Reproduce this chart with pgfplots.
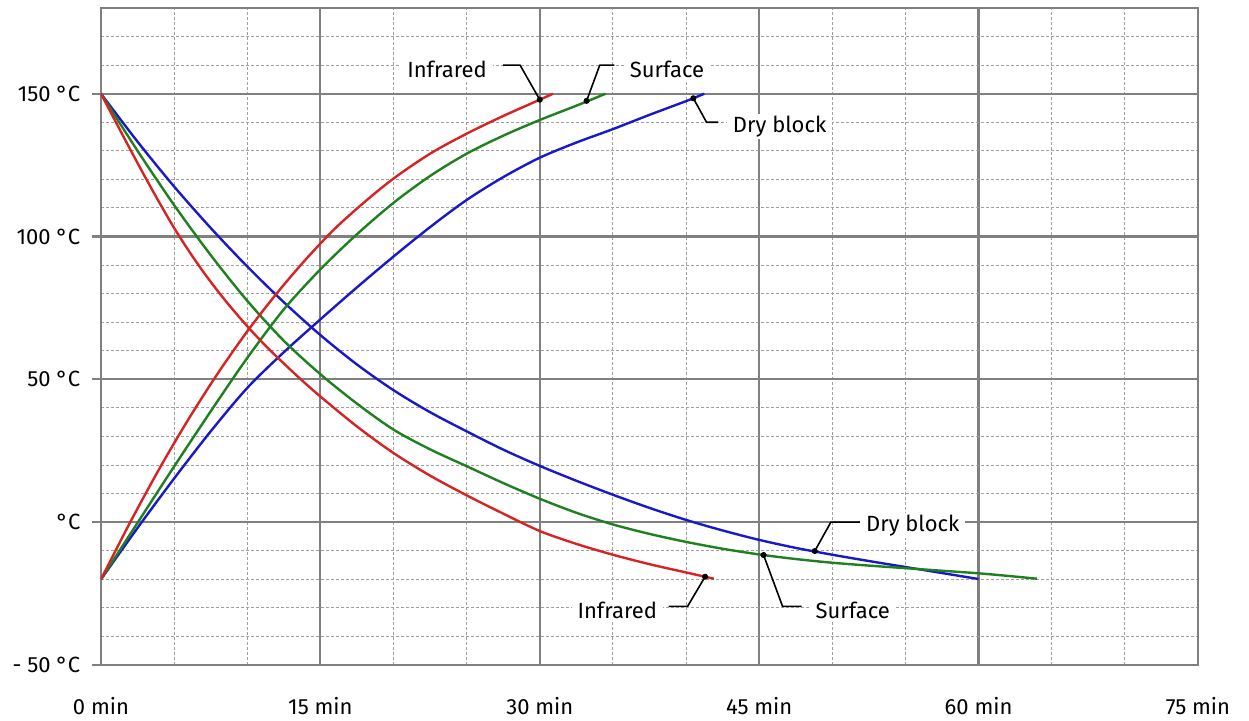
\documentclass[border=0pt]{standalone}
\usepackage{fontspec}
\setmainfont{Fira Sans}
\usepackage{pgfplots}
\pgfplotsset{compat=1.18}
\definecolor{gridgray}{RGB}{128,128,128}
\definecolor{mingray}{RGB}{160,160,160}
\definecolor{cred}{RGB}{214,35,35}
\definecolor{cgreen}{RGB}{30,128,30}
\definecolor{cblue}{RGB}{25,25,200}
\begin{document}
\begin{tikzpicture}[font=\fontsize{11pt}{13pt}\selectfont]
\begin{axis}[
  scale only axis, width=548.5pt, height=328.5pt,
  xmin=0, xmax=75, ymin=-50, ymax=180,
  xtick={0,15,30,45,60,75},
  xticklabels={0 min,15 min,30 min,45 min,60 min,75 min},
  ytick={-50,0,50,100,150},
  yticklabels={- 50 °C,°C,50 °C,100 °C,150 °C},
  minor xtick={5,10,20,25,35,40,50,55,65,70},
  minor ytick={-40,-30,-20,-10,10,20,30,40,60,70,80,90,110,120,130,140,160,170},
  grid=both,
  major grid style={gridgray, line width=1.1pt},
  minor grid style={mingray, line width=0.5pt, dash pattern=on 1.5pt off 1pt},
  axis line style={gridgray, line width=1.3pt},
  tick align=outside, major tick length=4.5pt, minor tick length=0pt,
  xtick pos=bottom, ytick pos=left,
  xtick style={draw=none},
  ytick style={gridgray, line width=1.1pt},
  xticklabel style={yshift=-8pt},
  yticklabel style={xshift=-2.3pt},
  every axis plot/.append style={line join=round},
]
% Dry block (blue)
\addplot[cblue, line width=1.2pt, smooth] coordinates {
(0,-20)(2.5,-2)(5,15.3)(7.5,31.8)(10,47)(12.5,59.5)(15,71)(17.5,82.2)(20,93)(22.5,103.3)(25,112.8)(27.5,120.8)(30,127.6)(32.5,132.9)(35,137.6)(37.5,142.6)(40,147.4)(41.25,150)};
\addplot[cblue, line width=1.2pt, smooth] coordinates {
(0,150)(2.5,133.2)(5,117.5)(7.5,103)(10,89.5)(12.5,77)(15,65.5)(17.5,55.2)(20,46.2)(22.5,38.5)(25,31.8)(27.5,25.4)(30,19.7)(32.5,14.5)(35,9.6)(37.5,5)(40,0.8)(42.5,-2.9)(45,-6.2)(47.5,-9)(50,-11.4)(52.5,-13.6)(55,-15.7)(57.5,-17.8)(60,-19.9)};
% Surface (green)
\addplot[cgreen, line width=1.2pt, smooth] coordinates {
(0,-20)(2.5,-0.2)(5,19.5)(7.5,38.8)(10,57.5)(12.5,74.5)(15,88.5)(17.5,100.8)(20,111.8)(22.5,121.2)(25,129)(27.5,135.3)(30,140.8)(32.5,145.8)(34.5,150)};
\addplot[cgreen, line width=1.2pt, smooth] coordinates {
(0,150)(2.5,130)(5,111)(7.5,93.5)(10,77.5)(12.5,63.5)(15,51.8)(17.5,41.5)(20,32.4)(22.5,25.5)(25,19.6)(27.5,13.7)(30,8.2)(32.5,3.3)(35,-0.8)(37.5,-4.1)(40,-6.9)(42.5,-9.3)(45,-11.3)(47.5,-12.9)(50,-14.2)(52.5,-15.2)(55,-16.1)(57.5,-17)(60,-17.9)(62,-18.8)(64,-19.8)};
% Infrared (red)
\addplot[cred, line width=1.2pt, smooth] coordinates {
(0,-20)(2,0)(4,18.8)(6,36.2)(8,52.2)(10,66.8)(12,80)(14,92)(16,102.8)(18,112)(20,120.3)(22.5,129)(25,136)(27.5,142.2)(30,147.9)(30.9,150)};
\addplot[cred, line width=1.2pt, smooth] coordinates {
(0,150)(1,140.2)(2,130.5)(3,121)(4,111.8)(5,103)(6,95)(7,87.6)(8,80.8)(9,74.5)(10,68.6)(11,63.1)(12,58)(13.6,50.3)(15,44)(17.5,33.5)(20,24.2)(22.5,16.3)(25,9.4)(27.5,3)(30,-3.1)(32.5,-7.6)(35,-11.4)(37.5,-14.7)(40,-17.6)(41.3,-19.1)(41.9,-19.8)};
% leader lines
\addplot[black, line width=0.8pt] coordinates {(27.5,160)(28.65,160)(30,147.9)};
\addplot[black, line width=0.8pt] coordinates {(35.1,160)(34.1,160)(33.2,147.5)};
\addplot[black, line width=0.8pt] coordinates {(40.5,148.4)(41.4,140)(42.2,140)};
\addplot[black, line width=0.8pt] coordinates {(48.8,-10.1)(49.9,0)(52.0,0)};
\addplot[black, line width=0.8pt] coordinates {(45.3,-11.5)(46.6,-29.5)(47.9,-29.5)};
\addplot[black, line width=0.8pt] coordinates {(41.3,-19.1)(40.1,-29.5)(38.8,-29.5)};
\addplot[only marks, mark=*, mark size=1.3pt, black] coordinates {
(30,147.9)(33.2,147.5)(40.5,148.4)(48.8,-10.1)(45.3,-11.5)(41.3,-19.1)};
% labels
\node[fill=white, inner xsep=3pt, inner ysep=1pt] at (axis cs:23.66,158.5) {Infrared};
\node[fill=white, inner xsep=3pt, inner ysep=1pt] at (axis cs:38.7,158.5) {Surface};
\node[fill=white, inner xsep=3pt, inner ysep=1pt] at (axis cs:46.4,138.5) {Dry block};
\node[fill=white, inner xsep=3pt, inner ysep=1pt] at (axis cs:55.5,-1.2) {Dry block};
\node[fill=white, inner xsep=3pt, inner ysep=1pt] at (axis cs:51.4,-30.8) {Surface};
\node[fill=white, inner xsep=3pt, inner ysep=1pt] at (axis cs:35.3,-30.8) {Infrared};
\end{axis}
\pgfresetboundingbox
\path (-50.5pt,-27.5pt) rectangle (574pt,332.5pt);
\end{tikzpicture}
\end{document}
